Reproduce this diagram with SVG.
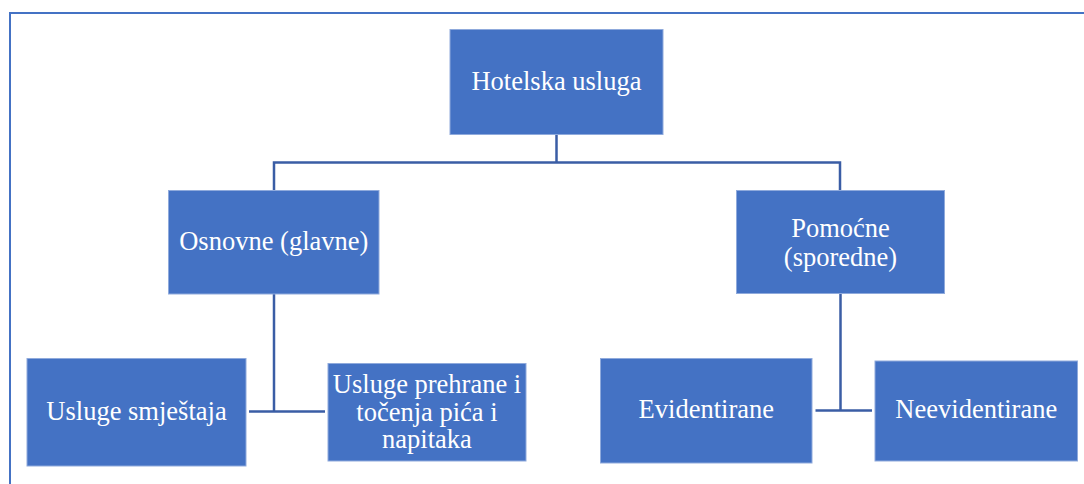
<svg xmlns="http://www.w3.org/2000/svg" width="1084" height="484" viewBox="0 0 1084 484">
<style>
.box{fill:#4472C4;stroke:#8FAADC;stroke-width:1}
.t{font-family:"Liberation Serif","Times New Roman",serif;font-size:26.5px;fill:#FFFFFF;text-anchor:middle}
.c{fill:none;stroke:#3A5DA5;stroke-width:2.5}
</style>
<rect x="0" y="0" width="1084" height="484" fill="#FFFFFF"/>
<path d="M10,490 V13 H1090" fill="none" stroke="#4472C4" stroke-width="2"/>
<g id="connectors">
<path class="c" d="M556.5,134.5 V162.5"/>
<path class="c" d="M274,191 V162.5 H840 V191"/>
<path class="c" d="M274,294 V411.5"/>
<path class="c" d="M249,411.5 H325"/>
<path class="c" d="M840.5,293.5 V410.5"/>
<path class="c" d="M815.5,410.5 H872"/>
</g>
<g id="hotelska">
<rect class="box" x="450" y="29.5" width="213" height="105"/>
<text class="t" x="556.5" y="90">Hotelska usluga</text>
</g>
<g id="osnovne">
<rect class="box" x="168.5" y="190.5" width="210.5" height="103.5"/>
<text class="t" x="273.8" y="250">Osnovne (glavne)</text>
</g>
<g id="pomocne">
<rect class="box" x="736.5" y="190.5" width="208" height="103"/>
<text class="t" x="840.5" y="236.5">Pomoćne</text>
<text class="t" x="840.5" y="265.5">(sporedne)</text>
</g>
<g id="smjestaja">
<rect class="box" x="27" y="358.5" width="219" height="107.5"/>
<text class="t" x="136.5" y="420">Usluge smještaja</text>
</g>
<g id="prehrane">
<rect class="box" x="328" y="363.5" width="198" height="97.5"/>
<text class="t" x="427" y="393">Usluge prehrane i</text>
<text class="t" x="427" y="420.5">točenja pića i</text>
<text class="t" x="427" y="448">napitaka</text>
</g>
<g id="evidentirane">
<rect class="box" x="600.5" y="358.5" width="211.5" height="104.5"/>
<text class="t" x="706.3" y="418">Evidentirane</text>
</g>
<g id="neevidentirane">
<rect class="box" x="875" y="361" width="202.5" height="100"/>
<text class="t" x="976.3" y="418">Neevidentirane</text>
</g>
</svg>
